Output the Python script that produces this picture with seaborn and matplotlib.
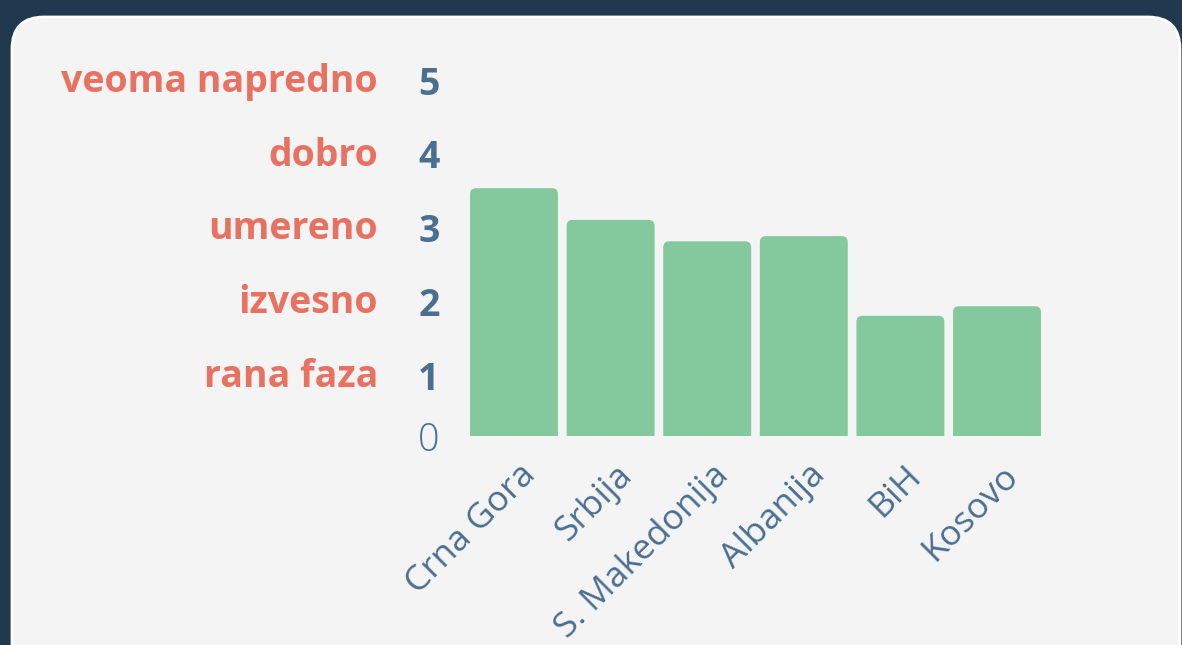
import numpy as np
import matplotlib.pyplot as plt
import matplotlib.transforms as mtransforms
from matplotlib.patches import FancyBboxPatch
import seaborn as sns
import pandas as pd

# chart data
countries = ['Crna Gora', 'Srbija', 'S. Makedonija', 'Albanija', 'BiH', 'Kosovo']
scores = [3.36, 2.93, 2.64, 2.71, 1.63, 1.76]
levels = [1, 2, 3, 4, 5]
level_names = ['rana faza', 'izvesno', 'umereno', 'dobro', 'veoma napredno']

navy = '#22384f'
panel = '#f4f4f4'
green = '#84c89e'
salmon = '#e87262'
steel = '#4a6f8f'

sns.set_theme(style='white')
plt.rcParams['font.family'] = ['Open Sans', 'DejaVu Sans']

W, H = 1182, 645
fig = plt.figure(figsize=(W / 100, H / 100), dpi=100, facecolor=navy)

# rounded card behind the chart
card = FancyBboxPatch((12 / 100, -1.0), (1180 - 12) / 100, (H - 17) / 100 + 1.0,
                      boxstyle='round,pad=0,rounding_size=0.32',
                      transform=fig.dpi_scale_trans, facecolor=panel,
                      edgecolor='white', linewidth=2, zorder=-5)
fig.patches.append(card)

ax_l, ax_r = 465.7, 1045.3
ax_b, ax_t = 436, 67.25
ax = fig.add_axes([ax_l / W, (H - ax_b) / H, (ax_r - ax_l) / W, (ax_b - ax_t) / H])
ax.set_facecolor('none')
ax.set_zorder(2)

df = pd.DataFrame({'country': countries, 'score': scores})
sns.barplot(data=df, x='country', y='score', color=green, saturation=1,
            width=0.91, ax=ax)
ax.set_xlim(-0.5, len(countries) - 0.5)
ax.set_ylim(0, 5)

# rounded tops on the bars (bottom corners fall below 0 and get clipped)
px_x = (ax_r - ax_l) / len(countries)
px_y = (ax_b - ax_t) / 5
r = 6 / px_x
below = 0.3
for bar in list(ax.patches):
    x, w, h = bar.get_x(), bar.get_width(), bar.get_height()
    bar.remove()
    ax.add_patch(FancyBboxPatch((x, -below), w, h + below,
                                boxstyle=f'round,pad=0,rounding_size={r}',
                                mutation_aspect=px_x / px_y,
                                facecolor=green, edgecolor='none'))

for s in ax.spines.values():
    s.set_visible(False)
ax.set_xlabel('')
ax.set_ylabel('')
ax.set_yticks([])
ax.tick_params(axis='x', length=0, pad=16)
ax.set_xticks(range(len(countries)))
ax.set_xticklabels(countries, rotation=45, ha='right', va='top',
                   rotation_mode='anchor', fontsize=25.5, color=steel)
shift = mtransforms.ScaledTranslation(4 / 100, 0, fig.dpi_scale_trans)
for lab in ax.get_xticklabels():
    lab.set_transform(lab.get_transform() + shift)

# y labels: numbers and level names
yt = ax.get_yaxis_transform()
down = mtransforms.ScaledTranslation(0, -13 / 100, fig.dpi_scale_trans)
down_n = mtransforms.ScaledTranslation(0, -10 / 100, fig.dpi_scale_trans)
num_x = (429 - ax_l) / (ax_r - ax_l)
name_x = (378 - ax_l) / (ax_r - ax_l)
ax.text(num_x, 0, '0', transform=yt, ha='center', va='center_baseline',
        fontsize=27, color=steel, fontweight='light')
for lv, name in zip(levels, level_names):
    ax.text(num_x, lv, str(lv), transform=yt + down, ha='center',
            va='center_baseline', fontsize=27, color=steel, fontweight='bold')
    ax.text(name_x, lv, name, transform=yt + down_n, ha='right',
            va='center_baseline', fontsize=27, color=salmon, fontweight='bold')

fig.savefig('out.png', dpi=100, facecolor=navy)
